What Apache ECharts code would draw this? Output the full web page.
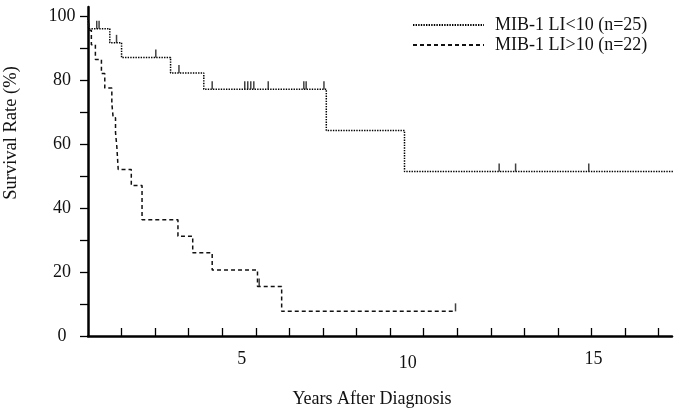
<!DOCTYPE html>
<html>
<head>
<meta charset="utf-8">
<script src="https://cdn.jsdelivr.net/npm/echarts@6/dist/echarts.min.js"></script>
<style>
html,body{margin:0;padding:0;background:#fff;}
#chart{width:685px;height:411px;}
</style>
</head>
<body>
<div id="chart"></div>
<script>
// ---- Data ----
const seriesNames = ['MIB-1 LI<10 (n=25)', 'MIB-1 LI>10 (n=22)'];

const lowTimes = [0, 0.02, 0.65, 1.0, 2.46, 3.45, 7.1, 9.43, 17.65];
const lowSurv  = [100, 96, 91.6, 87.0, 82.2, 77.1, 64.2, 51.4, 51.4];
const lowCensorTimes = [0.26, 0.33, 0.85, 2.02, 2.71, 3.7, 4.67, 4.76, 4.85, 4.94, 5.37, 6.43, 6.5, 7.03, 12.25, 12.74, 14.92];
const lowCensorSurv  = [96, 96, 91.6, 87.0, 82.2, 77.1, 77.1, 77.1, 77.1, 77.1, 77.1, 77.1, 77.1, 77.1, 51.4, 51.4, 51.4];

const highTimes = [0, 0.04, 0.1, 0.22, 0.4, 0.5, 0.71, 0.75, 0.82, 0.86, 0.9, 1.29, 1.61, 2.68, 3.12, 3.7, 5.05, 5.77, 10.95];
const highSurv  = [100, 95.5, 91, 86.4, 82, 77.5, 72.7, 68.2, 63.6, 59, 52, 47, 36.3, 31.2, 26, 20.6, 15.5, 7.7, 7.7];
const highCensorTimes = [5.1, 10.95];
const highCensorSurv  = [15.5, 7.7];

const xTickValues = [1,2,3,4,5,6,7,8,9,10,11,12,13,14,15,16,17];
const xLabelValues = [5, 10, 15];
const yTickValues = [0,10,20,30,40,50,60,70,80,90,100];
const yLabelValues = [0,20,40,60,80,100];

// ---- Build ----
const zip = (a, b) => a.map((v, i) => [v, b[i]]);
const FONT = "'Liberation Serif', 'Times New Roman', serif";
const INK = '#111';

const censorStyle = {
  type: 'scatter',
  symbol: 'rect',
  symbolSize: [1.5, 8],
  symbolOffset: [0, '-50%'],
  itemStyle: { color: '#111' },
  silent: true,
  z: 3
};

const chart = echarts.init(document.getElementById('chart'), null, { renderer: 'canvas' });
chart.setOption({
  animation: false,
  backgroundColor: '#fff',
  grid: { left: 88, right: 13, top: 7, bottom: 75, containLabel: false, outerBoundsMode: 'none' },
  legend: {
    data: seriesNames,
    orient: 'vertical',
    left: 407,
    top: 11,
    itemWidth: 71,
    itemHeight: 12,
    itemGap: 2,
    itemStyle: { opacity: 0, color: 'rgba(0,0,0,0)', borderWidth: 0 },
    textStyle: { fontFamily: FONT, fontSize: 18, color: INK, padding: [0, 0, 0, 6] }
  },
  xAxis: {
    type: 'value',
    min: 0,
    max: 17.4,
    name: 'Years After Diagnosis',
    nameLocation: 'middle',
    nameGap: 54,
    nameTextStyle: { fontFamily: FONT, fontSize: 18, color: INK, padding: [0, 16, 0, 0] },
    axisLine: { onZero: true, lineStyle: { color: '#000', width: 2.5 } },
    axisTick: { inside: true, length: 8, customValues: xTickValues, lineStyle: { color: '#000', width: 1.3 } },
    axisLabel: {
      customValues: xLabelValues,
      margin: 14,
      fontFamily: FONT, fontSize: 18, color: INK,
      formatter: v => (v === 5 ? '{a|5}' : v === 10 ? '{b|10}' : '{c|' + v + '}'),
      rich: {
        a: { fontFamily: FONT, fontSize: 18, color: INK, padding: [0, 28, 0, 0] },
        b: { fontFamily: FONT, fontSize: 18, color: INK, padding: [4, 32, 0, 0] },
        c: { fontFamily: FONT, fontSize: 18, color: INK, padding: [0, 0, 0, 4] }
      }
    },
    splitLine: { show: false }
  },
  yAxis: {
    type: 'value',
    min: 0,
    max: 102.8,
    name: 'Survival Rate (%)',
    nameLocation: 'middle',
    nameGap: 67,
    nameTextStyle: { fontFamily: FONT, fontSize: 18.5, color: INK, padding: [0, 0, 0, 77] },
    axisLine: { show: true, lineStyle: { color: '#000', width: 2.5 } },
    axisTick: { show: true, inside: false, length: 8, customValues: yTickValues, lineStyle: { color: '#000', width: 1.3 } },
    axisLabel: { customValues: yLabelValues, margin: 26, align: 'center', fontFamily: FONT, fontSize: 18, color: INK },
    splitLine: { show: false }
  },
  series: [
    {
      name: seriesNames[0],
      type: 'line',
      step: 'end',
      data: zip(lowTimes, lowSurv),
      symbol: 'none',
      clip: false,
      lineStyle: { color: '#000', width: 1.5, type: [1.4, 1.2] },
      itemStyle: { color: '#000' },
      z: 2
    },
    {
      name: seriesNames[1],
      type: 'line',
      step: 'end',
      data: zip(highTimes, highSurv),
      symbol: 'none',
      lineStyle: { color: '#111', width: 1.5, type: [4, 3] },
      itemStyle: { color: '#111' },
      z: 2
    },
    Object.assign({ data: zip(lowCensorTimes, lowCensorSurv) }, censorStyle),
    Object.assign({ data: zip(highCensorTimes, highCensorSurv) }, censorStyle)
  ]
});
</script>
</body>
</html>
